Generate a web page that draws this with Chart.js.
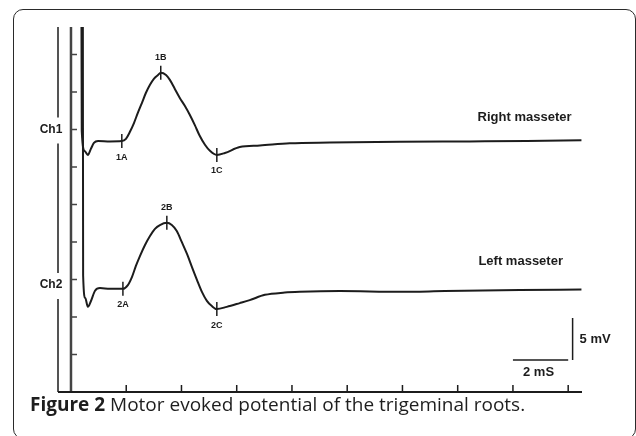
<!DOCTYPE html>
<html>
<head>
  <title>Figure 2 - Motor evoked potential</title>
  <script src="https://cdn.jsdelivr.net/npm/chart.js"></script>
  <style>
    body {
      margin: 0;
      background: #fff;
    }
    #wrap {
      position: relative;
      width: 636px;
      height: 436px;
      overflow: hidden;
    }
    #frame {
      position: absolute;
      left: 13px;
      top: 9px;
      width: 623px;
      height: 430px;
      border: 1.5px solid #2a2a2a;
      border-radius: 10px;
      box-sizing: border-box;
    }
    #caption {
      position: absolute;
      left: 30px;
      top: 391px;
      font-family: "Open Sans", sans-serif;
      font-size: 19px;
      color: #1e1e1e;
      white-space: nowrap;
    }
    #caption b {
      font-weight: 700;
    }
    canvas {
      position: absolute;
      left: 0;
      top: 0;
    }
  </style>
</head>
<body>
  <div id="wrap">
    <div id="frame"></div>
    <canvas id="mepChart" width="636" height="436"></canvas>
    <div id="caption"><b>Figure 2</b> Motor evoked potential of the trigeminal roots.</div>
  </div>

  <script>
    // time in mS, amplitude in axis divisions (one y tick = one division)
    const xRange = [-0.47, 18.5];
    const yRange = [0, 9.73];
    const xTicks = [2, 4, 6, 8, 10, 12, 14, 16, 18];
    const yTicks = [1, 2, 3, 4, 5, 6, 7, 8, 9];

    // Ch1 - right masseter
    const ch1Time = [0.38, 0.39, 0.50, 0.61, 0.72, 0.83, 0.98, 1.41, 1.84, 1.99, 2.13, 2.28, 2.42, 2.57, 2.71, 2.86, 3.00, 3.15, 3.25, 3.44, 3.58, 3.76, 3.94, 4.12, 4.30, 4.48, 4.66, 4.85, 5.03, 5.28, 5.57, 6.11, 6.84, 7.92, 9.37, 11.90, 14.43, 16.50, 18.48];
    const ch1Value = [9.73, 6.95, 6.42, 6.32, 6.48, 6.64, 6.69, 6.68, 6.69, 6.75, 6.93, 7.17, 7.44, 7.71, 7.97, 8.19, 8.35, 8.45, 8.51, 8.45, 8.32, 8.08, 7.84, 7.63, 7.39, 7.12, 6.83, 6.59, 6.43, 6.32, 6.37, 6.53, 6.57, 6.63, 6.65, 6.67, 6.68, 6.69, 6.71];

    // Ch2 - left masseter
    const ch2Time = [0.43, 0.44, 0.52, 0.61, 0.72, 0.87, 1.05, 1.41, 1.88, 2.06, 2.21, 2.35, 2.50, 2.68, 2.86, 3.04, 3.22, 3.47, 3.65, 3.83, 4.01, 4.20, 4.38, 4.56, 4.74, 4.92, 5.10, 5.28, 5.64, 6.11, 6.47, 7.02, 7.74, 8.28, 9.73, 11.90, 13.53, 16.24, 18.48];
    const ch2Value = [9.73, 3.10, 2.50, 2.27, 2.42, 2.70, 2.77, 2.75, 2.75, 2.85, 3.07, 3.36, 3.63, 3.92, 4.16, 4.35, 4.45, 4.51, 4.45, 4.29, 4.00, 3.68, 3.33, 2.99, 2.67, 2.43, 2.29, 2.21, 2.27, 2.37, 2.45, 2.59, 2.65, 2.67, 2.69, 2.67, 2.69, 2.72, 2.73];

    const markerNames = ['1A', '1B', '1C', '2A', '2B', '2C'];
    const markerTime = [1.84, 3.25, 5.28, 1.88, 3.47, 5.28];
    const markerValue = [6.69, 8.51, 6.32, 2.75, 4.51, 2.21];
    const markerAbove = [false, true, false, false, true, false];

    const channelNames = ['Ch1', 'Ch2'];
    const channelLevel = [7.0, 2.85];

    const traceNames = ['Right masseter', 'Left masseter'];
    const traceNameTime = [14.72, 14.75];
    const traceNameValue = [7.31, 3.47];

    // calibration bars: 2 mS horizontal, 5 mV vertical
    const timeBarTime = [16, 18];
    const timeBarLevel = 0.853;
    const voltBarTime = 18.16;
    const voltBarLevel = [0.853, 1.973];

    function pairs(xs, ys) {
      return xs.map((x, i) => ({ x: x, y: ys[i] }));
    }

    const ink = '#1c1c1c';

    const axesPlugin = {
      id: 'axesPlugin',
      beforeDatasetsDraw(chart) {
        const { ctx, scales: { x, y } } = chart;
        const xl = x.getPixelForValue(xRange[0]);
        const xr = x.getPixelForValue(xRange[1]);
        const x0 = x.getPixelForValue(0);
        const yb = y.getPixelForValue(yRange[0]);
        const yt = y.getPixelForValue(yRange[1]);
        ctx.save();
        ctx.strokeStyle = ink;

        // left line, broken where the channel names sit
        ctx.lineWidth = 1.5;
        const gaps = channelLevel.map(v => y.getPixelForValue(v)).sort((a, b) => a - b);
        let start = yt;
        ctx.beginPath();
        gaps.forEach(g => {
          ctx.moveTo(xl, start);
          ctx.lineTo(xl, g - 12);
          start = g + 14;
        });
        ctx.moveTo(xl, start);
        ctx.lineTo(xl, yb);
        ctx.stroke();

        // y axis with ticks
        ctx.lineWidth = 2.5;
        ctx.strokeStyle = '#444';
        ctx.beginPath();
        ctx.moveTo(x0, yt);
        ctx.lineTo(x0, yb);
        ctx.stroke();
        ctx.lineWidth = 1.5;
        ctx.beginPath();
        yTicks.forEach(v => {
          const py = y.getPixelForValue(v);
          ctx.moveTo(x0, py);
          ctx.lineTo(x0 + 6, py);
        });
        ctx.stroke();

        // x axis with ticks
        ctx.strokeStyle = ink;
        ctx.lineWidth = 2;
        ctx.beginPath();
        ctx.moveTo(xl, yb);
        ctx.lineTo(xr, yb);
        ctx.stroke();
        ctx.lineWidth = 1.5;
        ctx.beginPath();
        xTicks.forEach(t => {
          const px = x.getPixelForValue(t);
          ctx.moveTo(px, yb);
          ctx.lineTo(px, yb - 7);
        });
        ctx.stroke();

        // channel names
        ctx.fillStyle = ink;
        ctx.font = 'bold 12px "Liberation Sans", Arial, sans-serif';
        ctx.textAlign = 'center';
        ctx.textBaseline = 'middle';
        channelNames.forEach((name, i) => {
          ctx.fillText(name, xl - 7, y.getPixelForValue(channelLevel[i]));
        });
        ctx.restore();
      },
      afterDatasetsDraw(chart) {
        const { ctx, scales: { x, y } } = chart;
        ctx.save();
        ctx.fillStyle = ink;

        // marker names
        ctx.font = 'bold 9px "Liberation Sans", Arial, sans-serif';
        ctx.textAlign = 'center';
        ctx.textBaseline = 'middle';
        markerNames.forEach((name, i) => {
          const px = x.getPixelForValue(markerTime[i]);
          const py = y.getPixelForValue(markerValue[i]);
          ctx.fillText(name, px, markerAbove[i] ? py - 15 : py + 16);
        });

        // trace names
        ctx.font = 'bold 13px "Liberation Sans", Arial, sans-serif';
        ctx.textAlign = 'left';
        traceNames.forEach((name, i) => {
          ctx.fillText(name, x.getPixelForValue(traceNameTime[i]), y.getPixelForValue(traceNameValue[i]));
        });

        // calibration labels
        const vx = x.getPixelForValue(voltBarTime);
        const vy = y.getPixelForValue((voltBarLevel[0] + voltBarLevel[1]) / 2);
        ctx.fillText('5 mV', vx + 7, vy);
        ctx.textAlign = 'center';
        const hx = x.getPixelForValue((timeBarTime[0] + timeBarTime[1]) / 2);
        const hy = y.getPixelForValue(timeBarLevel);
        ctx.fillText('2 mS', hx - 2, hy + 12);
        ctx.restore();
      }
    };

    const traceStyle = {
      showLine: true,
      borderColor: ink,
      borderWidth: 2,
      pointRadius: 0,
      cubicInterpolationMode: 'monotone'
    };

    const barStyle = {
      showLine: true,
      borderColor: ink,
      borderWidth: 1.5,
      pointRadius: 0,
      tension: 0
    };

    const ctx = document.getElementById('mepChart').getContext('2d');
    const chart = new Chart(ctx, {
      type: 'scatter',
      data: {
        datasets: [
          Object.assign({ label: 'Right masseter', data: pairs(ch1Time, ch1Value) }, traceStyle),
          Object.assign({ label: 'Left masseter', data: pairs(ch2Time, ch2Value) }, traceStyle),
          {
            label: 'Markers',
            data: pairs(markerTime, markerValue),
            showLine: false,
            pointStyle: 'line',
            rotation: 90,
            pointRadius: 7,
            borderColor: ink,
            borderWidth: 1.5
          },
          Object.assign({ label: '2 mS', data: pairs(timeBarTime, [timeBarLevel, timeBarLevel]) }, barStyle),
          Object.assign({ label: '5 mV', data: pairs([voltBarTime, voltBarTime], voltBarLevel) }, barStyle)
        ]
      },
      options: {
        responsive: false,
        animation: false,
        devicePixelRatio: 1,
        layout: {
          padding: { left: 58, right: 54, top: 27, bottom: 44 }
        },
        plugins: {
          legend: { display: false },
          tooltip: { enabled: false }
        },
        scales: {
          x: { type: 'linear', min: xRange[0], max: xRange[1], display: false },
          y: { type: 'linear', min: yRange[0], max: yRange[1], display: false }
        }
      },
      plugins: [axesPlugin]
    });
  </script>
</body>
</html>
